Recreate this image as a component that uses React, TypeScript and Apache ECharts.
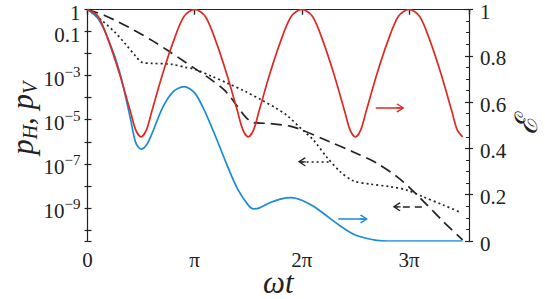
import React, { useEffect, useRef } from "react";
import * as echarts from "echarts";

// x values are in units of pi (omega t / pi)
const RED_X = [0, 0.1, 0.2, 0.3, 0.4, 0.45, 0.5, 0.55, 0.6, 0.7, 0.8, 0.9, 1.0, 1.1, 1.2, 1.3, 1.4, 1.45, 1.5, 1.55, 1.6, 1.7, 1.8, 1.9, 2.0, 2.1, 2.2, 2.3, 2.4, 2.45, 2.5, 2.55, 2.6, 2.7, 2.8, 2.9, 3.0, 3.1, 3.2, 3.3, 3.4, 3.45, 3.5];
const RED_E = [1, 0.97, 0.86, 0.72, 0.56, 0.48, 0.45, 0.48, 0.56, 0.72, 0.86, 0.97, 1, 0.97, 0.86, 0.72, 0.56, 0.48, 0.45, 0.48, 0.56, 0.72, 0.86, 0.97, 1, 0.97, 0.86, 0.72, 0.56, 0.48, 0.45, 0.48, 0.56, 0.72, 0.86, 0.97, 1, 0.97, 0.86, 0.72, 0.56, 0.48, 0.45];

const BLUE_X = [0, 0.1, 0.2, 0.3, 0.4, 0.45, 0.5, 0.55, 0.6, 0.7, 0.8, 0.9, 1.0, 1.1, 1.2, 1.3, 1.4, 1.5, 1.55, 1.6, 1.7, 1.8, 1.9, 2.0, 2.1, 2.2, 2.3, 2.4, 2.5, 2.6, 2.7, 2.8, 3.0, 3.2, 3.5];
const BLUE_E = [1, 0.96, 0.865, 0.73, 0.53, 0.425, 0.397, 0.415, 0.462, 0.575, 0.645, 0.667, 0.64, 0.555, 0.446, 0.33, 0.225, 0.155, 0.139, 0.142, 0.165, 0.181, 0.187, 0.176, 0.152, 0.12, 0.085, 0.052, 0.026, 0.012, 0.003, 0, 0, 0, 0];

// log10 of p
const DASH_X = [0, 0.16, 0.29, 0.44, 0.6, 0.75, 0.91, 1.0, 1.125, 1.28, 1.4, 1.47, 1.53, 1.6, 1.7, 1.89, 2.01, 2.26, 2.48, 2.7, 2.89, 3.01, 3.17, 3.32, 3.5];
const DASH_LOGP = [0, -0.27, -0.57, -0.95, -1.4, -1.86, -2.38, -2.67, -3.08, -3.67, -4.4, -4.85, -5.1, -5.15, -5.17, -5.29, -5.48, -6.0, -6.46, -6.97, -7.59, -8.1, -8.87, -9.62, -10.45];

const DOT_X = [0, 0.135, 0.257, 0.35, 0.443, 0.51, 0.6, 0.79, 0.91, 1.0, 1.16, 1.31, 1.47, 1.63, 1.75, 1.86, 2.01, 2.11, 2.23, 2.36, 2.48, 2.64, 2.83, 2.98, 3.13, 3.32, 3.49];
const DOT_LOGP = [0, -0.5, -1.04, -1.54, -2.08, -2.4, -2.44, -2.49, -2.62, -2.71, -3.03, -3.35, -3.71, -4.12, -4.45, -4.8, -5.48, -5.93, -6.68, -7.36, -7.77, -7.92, -8.04, -8.19, -8.49, -8.87, -9.22];

// annotation arrows [xStart, xEnd, y]
const RED_ARROW = [2.69, 2.92, 0.575];
const BLUE_ARROW = [2.34, 2.58, 0.095];
const DOT_ARROW = [2.25, 2.0, -6.91];
const DASH_ARROW = [3.12, 2.885, -8.95];

const X_TICK_LABELS = ["0", "π", "2π", "3π"];
const LOG_LABELED_DECADES = [0, 1, 3, 5, 7, 9];

const FONT = "Liberation Serif";
const RED = "#dd2a22";
const BLUE = "#1a8bd6";
const INK = "#222222";
const ARROW = "path://M5,0 L10,8.6 L9,10 L5,3 L1,10 L0,8.6 Z M4.3,1 L5.7,1 L5.7,10 L4.3,10 Z";

const zip = (xs: number[], ys: number[], f = (v: number) => v) => xs.map((x, i) => [x, f(ys[i])]);

function arrowLine(a: number[], flip: boolean, color: string, type: any) {
  const y = flip ? -a[2] : a[2];
  return {
    silent: true,
    symbol: ["none", ARROW],
    symbolSize: [9, 8],
    label: { show: false },
    lineStyle: { color, width: 1.5, type },
    emphasis: { disabled: true },
    data: [[{ coord: [a[0], y] }, { coord: [a[1], y] }]],
  };
}

export default function App() {
  const ref = useRef<HTMLDivElement>(null);
  useEffect(() => {
    const chart = echarts.init(ref.current!, undefined, { renderer: "svg" });
    const axisLine = { show: true, lineStyle: { color: INK, width: 1.2 } };
    const labelRich = {
      b: { fontFamily: FONT, fontSize: 21, lineHeight: 28, color: INK },
      s: { fontFamily: FONT, fontSize: 15, lineHeight: 15, verticalAlign: "top", color: INK },
    };
    const option: any = {
      animation: false,
      backgroundColor: "#ffffff",
      textStyle: { fontFamily: FONT },
      grid: { left: 87.5, right: 76, top: 9.5, bottom: 58, outerBoundsMode: "none", containLabel: false },
      xAxis: [
        {
          type: "value", min: 0, max: 3.56, interval: 1,
          axisLine, splitLine: { show: false },
          axisTick: { show: true, length: 5, lineStyle: { color: INK, width: 1.2 } },
          axisLabel: {
            margin: 8, color: INK, fontFamily: FONT, fontSize: 21,
            formatter: (v: number) => (Math.abs(v - Math.round(v)) < 1e-6 && X_TICK_LABELS[Math.round(v)]) || "",
          },
          name: "ωt", nameLocation: "middle", nameGap: 26, nameMoveOverlap: false,
          nameTextStyle: { fontFamily: FONT, fontStyle: "italic", fontSize: 31, color: INK },
        },
        {
          type: "value", min: 0, max: 3.56, interval: 1,
          axisLine: { show: false }, splitLine: { show: false }, axisLabel: { show: false },
          axisTick: { show: true, inside: true, length: 5, lineStyle: { color: INK, width: 1.2 } },
        },
      ],
      yAxis: [
        {
          // -log10(p), inverted so 1 is at top
          type: "value", position: "left", inverse: true, min: 0, max: 10.5, interval: 1,
          axisLine, splitLine: { show: false },
          axisTick: { show: true, length: 3, lineStyle: { color: INK, width: 1.2 } },
          axisLabel: {
            margin: 7, padding: [6, 0, 0, 0], rich: labelRich, fontFamily: FONT,
            formatter: (v: number) => {
              const n = Math.round(v);
              if (Math.abs(v - n) > 1e-6 || !LOG_LABELED_DECADES.includes(n)) return "";
              if (n === 0) return "{b|1}";
              if (n === 1) return "{b|0.1}";
              return `{b|10}{s|−${n}}`;
            },
          },
          name: "{p|p}{s|H}{p|, p}{s|V}", nameLocation: "middle", nameGap: 48, nameRotate: 90, nameMoveOverlap: false,
          nameTextStyle: {
            padding: [0, 0, 0, 14], fontFamily: FONT,
            rich: {
              p: { fontFamily: FONT, fontStyle: "italic", fontSize: 31, lineHeight: 34, color: INK },
              s: { fontFamily: FONT, fontStyle: "italic", fontSize: 20, lineHeight: 20, verticalAlign: "bottom", color: INK },
            },
          },
        },
        {
          type: "value", position: "left", inverse: true, min: 0, max: 10.5, interval: 1,
          axisLine: { show: false }, splitLine: { show: false }, axisLabel: { show: false },
          axisTick: { show: true, inside: true, length: 4, lineStyle: { color: INK, width: 1.2 } },
        },
        {
          type: "value", position: "right", min: 0, max: 1, interval: 0.2,
          axisLine, splitLine: { show: false },
          axisTick: { show: true, length: 4, lineStyle: { color: INK, width: 1.2 } },
          axisLabel: {
            margin: 11, padding: [5, 0, 0, 0], rich: labelRich, fontFamily: FONT,
            formatter: (v: number) => `{b|${Math.round(v * 10) / 10}}`,
          },
          name: "ℰ", nameLocation: "middle", nameGap: 42, nameRotate: 90, nameMoveOverlap: false,
          nameTextStyle: { fontFamily: FONT, fontStyle: "italic", fontSize: 31, color: INK },
        },
        {
          type: "value", position: "right", min: 0, max: 1, interval: 0.2,
          axisLine: { show: false }, splitLine: { show: false }, axisLabel: { show: false },
          axisTick: { show: true, inside: true, length: 4, lineStyle: { color: INK, width: 1.2 } },
          minorTick: { show: true, splitNumber: 4, length: 3, lineStyle: { color: INK, width: 1 } },
        },
      ],
      series: [
        {
          type: "line", xAxisIndex: 0, yAxisIndex: 0, data: zip(DASH_X, DASH_LOGP, (v) => -v),
          showSymbol: false, smooth: 0.3, silent: true,
          lineStyle: { color: INK, width: 1.7, type: [11, 6] },
          markLine: arrowLine(DASH_ARROW, true, INK, [7, 5]),
        },
        {
          type: "line", xAxisIndex: 0, yAxisIndex: 0, data: zip(DOT_X, DOT_LOGP, (v) => -v),
          showSymbol: false, smooth: 0.3, silent: true,
          lineStyle: { color: INK, width: 1.7, type: [2, 3] },
          markLine: arrowLine(DOT_ARROW, true, INK, [2, 3]),
        },
        {
          type: "line", xAxisIndex: 0, yAxisIndex: 2, data: zip(BLUE_X, BLUE_E),
          showSymbol: false, smooth: 0.3, silent: true,
          lineStyle: { color: BLUE, width: 1.7 },
          markLine: arrowLine(BLUE_ARROW, false, BLUE, "solid"),
        },
        {
          type: "line", xAxisIndex: 0, yAxisIndex: 2, data: zip(RED_X, RED_E),
          showSymbol: false, smooth: 0.3, silent: true,
          lineStyle: { color: RED, width: 1.7 },
          markLine: arrowLine(RED_ARROW, false, RED, "solid"),
        },
      ],
    };
    chart.setOption(option);
    return () => chart.dispose();
  }, []);
  return <div ref={ref} style={{ position: "fixed", left: 0, top: 0, width: 545, height: 299, background: "#fff" }} />;
}
